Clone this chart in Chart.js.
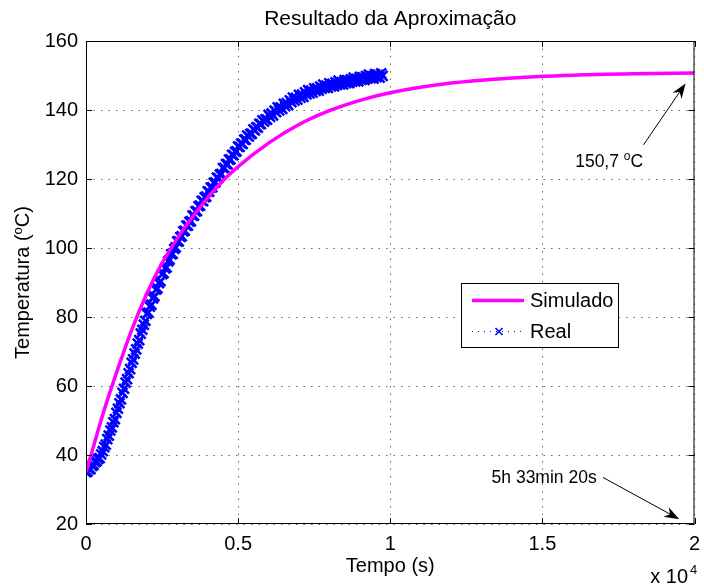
<!DOCTYPE html>
<html>
<head>
<meta charset="utf-8">
<script src="https://cdn.jsdelivr.net/npm/chart.js@4/dist/chart.umd.min.js"></script>
<style>
  html, body { margin:0; padding:0; background:#fff; }
</style>
</head>
<body>
<canvas id="main-chart" width="704" height="588"></canvas>
<script>
// ====== Resultado da Aproximação ======
const FONT = "'Liberation Sans', Arial, Helvetica, sans-serif";

// Simulado
const simTime = [0, 250, 500, 750, 1000, 1500, 2000, 2500, 3000, 3500, 4000, 4500, 5000,
  6000, 7000, 8000, 9000, 10000, 12000, 14000, 16000, 18000, 20000];
const simTemp = [35, 42.6, 50.2, 57.2, 63.8, 76.2, 86.8, 95.6, 102.8, 109, 114.5, 119.5, 123.6,
  130.4, 135.8, 139.8, 142.8, 145, 147.8, 149.3, 150.1, 150.5, 150.7];

// Real (blue markers, one every 50 s)
const realStep = 50;
const realTemp = [
  35.0, 35.2, 35.9, 35.9, 36.8, 37.1, 37.9, 38.2, 38.9, 39.1,
  40.2, 41.1, 42.3, 43.0, 44.6, 45.6, 47.1, 48.0, 49.5, 50.4,
  52.2, 53.4, 55.0, 56.1, 58.0, 59.2, 61.0, 62.0, 63.7, 64.9,
  66.7, 67.7, 69.4, 70.6, 72.3, 73.3, 75.2, 76.3, 77.8, 78.9,
  80.9, 81.3, 83.0, 83.6, 85.4, 86.0, 87.9, 88.3, 89.8, 90.4,
  92.4, 92.7, 94.1, 94.4, 96.1, 96.6, 98.2, 98.3, 99.7, 100.2,
  101.9, 101.9, 103.2, 103.4, 104.8, 105.0, 106.5, 106.5, 107.6, 107.8,
  109.4, 109.4, 110.6, 110.7, 112.1, 112.3, 113.7, 113.6, 114.7, 114.9,
  116.4, 116.3, 117.5, 117.6, 118.9, 119.0, 120.4, 120.3, 121.3, 121.5,
  123.2, 123.2, 124.3, 124.3, 125.6, 125.7, 127.0, 126.9, 127.9, 128.0,
  129.4, 129.3, 130.3, 130.2, 131.4, 131.4, 132.6, 132.3, 133.1, 133.1,
  134.4, 134.1, 135.0, 134.9, 136.0, 135.9, 137.0, 136.6, 137.3, 137.2,
  138.6, 138.0, 139.0, 138.4, 139.8, 139.4, 140.8, 139.9, 140.8, 140.3,
  141.8, 141.1, 142.0, 141.4, 142.8, 142.3, 143.6, 142.7, 143.5, 143.0,
  144.4, 143.6, 144.5, 143.8, 145.1, 144.5, 145.8, 144.8, 145.6, 145.0,
  146.3, 145.5, 146.3, 145.6, 146.8, 146.2, 147.4, 146.4, 147.1, 146.4,
  147.7, 146.8, 147.6, 146.8, 148.0, 147.3, 148.5, 147.4, 148.1, 147.4,
  148.7, 147.8, 148.6, 147.8, 148.9, 148.2, 149.4, 148.3, 149.0, 148.3,
  149.6, 148.7, 149.5, 148.7, 149.8, 149.1, 150.3, 149.2, 149.8, 149.1,
  150.4, 149.5, 150.2, 149.4, 150.6, 149.9
];

const xTickLabels = ["0", "0.5", "1", "1.5", "2"];
const yTickLabels = ["20", "40", "60", "80", "100", "120", "140", "160"];

// annotation anchors in data units (s, °C)
const notes = [
  { parts: [["150,7 ", 17.5, 0], ["o", 12, 7], ["C", 17.5, 0]], at: [16078, 123.6],
    from: [18323, 129.9], to: [19706, 147.7] },
  { parts: [["5h 33min 20s", 17.5, 0]], at: [13330, 31.9],
    from: [16993, 33.5], to: [19500, 21.4] }
];

const simPoints = simTime.map((t, i) => ({ x: t, y: simTemp[i] }));
const realPoints = realTemp.map((v, i) => ({ x: i * realStep, y: v }));

function drawParts(ctx, parts, x, y) {
  parts.forEach(([txt, size, rise]) => {
    ctx.font = size + "px " + FONT;
    ctx.fillText(txt, x, y - rise);
    x += ctx.measureText(txt).width;
  });
}
function partsWidth(ctx, parts) {
  let w = 0;
  parts.forEach(([txt, size]) => { ctx.font = size + "px " + FONT; w += ctx.measureText(txt).width; });
  return w;
}
function arrow(ctx, x1, y1, x2, y2) {
  const len = Math.hypot(x2 - x1, y2 - y1);
  const dx = (x2 - x1) / len, dy = (y2 - y1) / len;
  const L = 15, W = 5.5;
  ctx.beginPath();
  ctx.moveTo(x1, y1);
  ctx.lineTo(x2 - dx * L * 0.7, y2 - dy * L * 0.7);
  ctx.stroke();
  ctx.beginPath();
  ctx.moveTo(x2, y2);
  ctx.lineTo(x2 - dx * L - dy * W, y2 - dy * L + dx * W);
  ctx.lineTo(x2 - dx * L * 0.7, y2 - dy * L * 0.7);
  ctx.lineTo(x2 - dx * L + dy * W, y2 - dy * L - dx * W);
  ctx.closePath();
  ctx.fill();
}

const overlay = {
  id: "overlay",
  afterDraw(chart) {
    const ctx = chart.ctx;
    const a = chart.chartArea;
    const xs = chart.scales.x, ys = chart.scales.y;
    ctx.save();
    ctx.fillStyle = "#000";
    ctx.strokeStyle = "#000";
    ctx.lineWidth = 1;

    // box + inner ticks
    ctx.strokeRect(a.left + 0.5, a.top + 0.5, a.right - a.left - 1, a.bottom - a.top - 1);
    ctx.beginPath();
    xs.ticks.forEach(t => {
      const px = Math.round(xs.getPixelForValue(t.value)) + 0.5;
      ctx.moveTo(px, a.bottom); ctx.lineTo(px, a.bottom - 6);
      ctx.moveTo(px, a.top); ctx.lineTo(px, a.top + 6);
    });
    ys.ticks.forEach(t => {
      const py = Math.round(ys.getPixelForValue(t.value)) + 0.5;
      ctx.moveTo(a.left, py); ctx.lineTo(a.left + 6, py);
      ctx.moveTo(a.right, py); ctx.lineTo(a.right - 6, py);
    });
    ctx.stroke();

    // title and axis labels
    const cx = (a.left + a.right) / 2;
    ctx.textAlign = "center";
    ctx.textBaseline = "alphabetic";
    ctx.font = "21px " + FONT;
    ctx.fillText("Resultado da Aproximação", cx, 25);
    ctx.font = "20px " + FONT;
    ctx.fillText("Tempo (s)", cx, 572);

    ctx.textAlign = "left";
    ctx.font = "20px " + FONT;
    const xw = ctx.measureText("x 10").width;
    ctx.fillText("x 10", 688 - xw, 583);
    ctx.font = "13px " + FONT;
    ctx.fillText("4", 690, 574);

    const yParts = [["Temperatura (", 20, 0], ["o", 13, 7], ["C)", 20, 0]];
    ctx.save();
    ctx.translate(28.5, (a.top + a.bottom) / 2);
    ctx.rotate(-Math.PI / 2);
    drawParts(ctx, yParts, -partsWidth(ctx, yParts) / 2, 0);
    ctx.restore();

    // annotations
    notes.forEach(n => {
      drawParts(ctx, n.parts, xs.getPixelForValue(n.at[0]), ys.getPixelForValue(n.at[1]));
      arrow(ctx, xs.getPixelForValue(n.from[0]), ys.getPixelForValue(n.from[1]),
        xs.getPixelForValue(n.to[0]), ys.getPixelForValue(n.to[1]));
    });

    // legend
    const sim = chart.data.datasets[0], real = chart.data.datasets[1];
    ctx.fillStyle = "#fff";
    ctx.fillRect(461.5, 283.5, 157, 64);
    ctx.strokeStyle = "#000";
    ctx.strokeRect(461.5, 283.5, 157, 64);
    ctx.strokeStyle = sim.borderColor;
    ctx.lineWidth = sim.borderWidth;
    ctx.beginPath(); ctx.moveTo(472, 300.5); ctx.lineTo(524, 300.5); ctx.stroke();
    ctx.strokeStyle = real.borderColor;
    ctx.lineWidth = 1;
    ctx.setLineDash([1, 5]);
    ctx.beginPath(); ctx.moveTo(472, 331.5); ctx.lineTo(524, 331.5); ctx.stroke();
    ctx.setLineDash([]);
    ctx.lineWidth = 1.5;
    Chart.helpers.drawPoint(ctx, { pointStyle: "crossRot", radius: 5, borderWidth: 1.5 }, 499, 331.5);
    ctx.fillStyle = "#000";
    ctx.font = "20px " + FONT;
    ctx.fillText(sim.label, 530, 307);
    ctx.fillText(real.label, 530, 338);
    ctx.restore();
  }
};

const tickFont = { family: FONT, size: 20 };

new Chart(document.getElementById("main-chart").getContext("2d"), {
  type: "line",
  data: {
    datasets: [
      {
        label: "Simulado",
        data: simPoints,
        borderColor: "#ff00ff",
        borderWidth: 3.5,
        pointRadius: 0,
        cubicInterpolationMode: "monotone",
        fill: false
      },
      {
        label: "Real",
        data: realPoints,
        borderColor: "#0000ff",
        borderWidth: 1,
        borderDash: [1, 4],
        pointStyle: "crossRot",
        pointRadius: 7,
        pointBorderWidth: 2.5,
        pointBorderColor: "#0000ff",
        pointBackgroundColor: "#0000ff",
        fill: false
      }
    ]
  },
  options: {
    responsive: false,
    animation: false,
    layout: { padding: { top: 41, right: 6, left: 0, bottom: 0 } },
    plugins: { legend: { display: false }, tooltip: { enabled: false } },
    scales: {
      x: {
        type: "linear", min: 0, max: 20000,
        ticks: { stepSize: 5000, font: tickFont, color: "#000", padding: 8, maxRotation: 0, autoSkip: false,
          callback: (v, i) => xTickLabels[i] },
        grid: { color: "#666", lineWidth: 1, drawTicks: false },
        border: { display: false, dash: [1.5, 6] },
        afterFit(s) { s.height = 64; s.paddingLeft = 0; s.paddingRight = 0; }
      },
      y: {
        min: 20, max: 160,
        ticks: { stepSize: 20, font: tickFont, color: "#000", padding: 8,
          callback: (v, i) => yTickLabels[i] },
        grid: { color: "#666", lineWidth: 1, drawTicks: false },
        border: { display: false, dash: [1.5, 6] },
        afterFit(s) { s.width = 86; s.paddingTop = 0; s.paddingBottom = 0; }
      }
    }
  },
  plugins: [overlay]
});
</script>
</body>
</html>
